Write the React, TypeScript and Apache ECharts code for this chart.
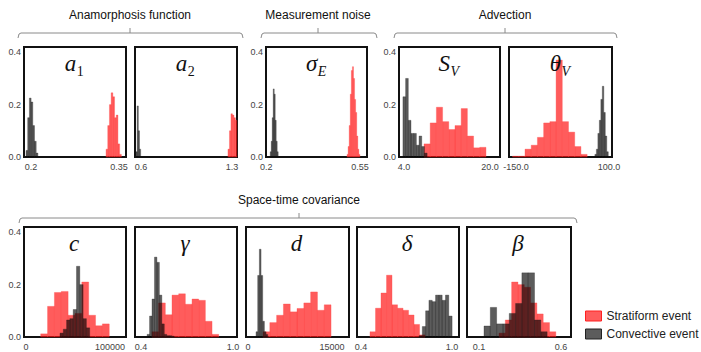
import { useEffect, useRef } from 'react';
import * as echarts from 'echarts';

const SANS = 'Liberation Sans, Arial, sans-serif';
const SERIF = 'Liberation Serif, Times New Roman, serif';

// ---- data: histogram bins [first bin start, bin width] and bin heights ----
const a1StratBins = [0.3279, 0.0029];
const a1StratHeights = [0.03, 0.12, 0.2, 0.245, 0.23, 0.15, 0.16, 0.05, 0.01];
const a1ConvBins = [0.1915, 0.0029];
const a1ConvHeights = [0.025, 0.15, 0.225, 0.21, 0.12, 0.06, 0.015];

const a2StratBins = [1.269, 0.0115];
const a2StratHeights = [0.03, 0.1, 0.165, 0.16, 0.15, 0.14];
const a2ConvBins = [0.5615, 0.009];
const a2ConvHeights = [0.02, 0.195, 0.1, 0.03];

const sigmaStratBins = [0.5016, 0.004];
const sigmaStratHeights = [0.01, 0.04, 0.12, 0.24, 0.33, 0.345, 0.3, 0.22, 0.17, 0.08, 0.03, 0.01];
const sigmaConvBins = [0.2149, 0.0037];
const sigmaConvHeights = [0.02, 0.06, 0.15, 0.26, 0.24, 0.14, 0.06, 0.02];

const svStratBins = [7.72, 1.153];
const svStratHeights = [0.05, 0.13, 0.19, 0.135, 0.105, 0.12, 0.185, 0.08, 0.035, 0.037];
const svConvBins = [3.8, 0.5];
const svConvHeights = [0.23, 0.3, 0.14, 0.09, 0.09, 0.045, 0.08, 0.04, 0.015];

const thetaStratBins = [-159.2, 16.7];
const thetaStratHeights = [0.003, 0.003, 0.03, 0.045, 0.075, 0.13, 0.135, 0.37, 0.135, 0.095, 0.04, 0.01];
const thetaConvBins = [62, 4];
const thetaConvHeights = [0.01, 0.03, 0.09, 0.14, 0.22, 0.27, 0.17, 0.08, 0.02];

const cStratBins = [17500, 8160];
const cStratHeights = [0.012, 0.117, 0.17, 0.174, 0.083, 0.09, 0.21, 0.083, 0.043, 0.05];
const cConvBins = [40460, 3930];
const cConvHeights = [0.015, 0.03, 0.065, 0.07, 0.105, 0.27, 0.2, 0.07, 0.035];

const gammaStratBins = [0.4718, 0.0435];
const gammaStratHeights = [0.02, 0.13, 0.085, 0.16, 0.165, 0.125, 0.145, 0.14, 0.06, 0.01];
const gammaConvBins = [0.44, 0.016];
const gammaConvHeights = [0.01, 0.08, 0.145, 0.305, 0.285, 0.16, 0.05, 0.01, 0.005, 0.005, 0.003];

const dStratBins = [2680, 1215];
const dStratHeights = [0.02, 0.055, 0.083, 0.126, 0.096, 0.109, 0.13, 0.172, 0.102, 0.123];
const dConvBins = [1430, 300];
const dConvHeights = [0.02, 0.235, 0.335, 0.235, 0.06, 0.02, 0.01];

const deltaStratBins = [0.4593, 0.0363];
const deltaStratHeights = [0.02, 0.11, 0.168, 0.236, 0.123, 0.11, 0.102, 0.084, 0.048, 0.008];
const deltaConvBins = [0.7824, 0.0218];
const deltaConvHeights = [0.005, 0.04, 0.1, 0.14, 0.135, 0.16, 0.16, 0.14, 0.16, 0.08];

const betaStratBins = [0.222, 0.0385];
const betaStratHeights = [0.015, 0.065, 0.21, 0.2, 0.19, 0.13, 0.088, 0.055, 0.02];
const betaConvBins = [0.1305, 0.0385];
const betaConvHeights = [0.042, 0.113, 0.05, 0.05, 0.09, 0.128, 0.245, 0.245, 0.065, 0.02];

// ---- texts and ticks ----
const panelSymbols = ['a', 'a', 'σ', 'S', 'θ', 'c', 'γ', 'd', 'δ', 'β'];
const panelSubscripts = ['1', '2', 'E', 'V', 'V', '', '', '', '', ''];
const xTickValues = [[0.2, 0.35], [0.6, 1.3], [0.2, 0.55], [4, 20], [-150, 100], [0, 100000], [0.4, 1.0], [0, 15000], [0.4, 1.0], [0.1, 0.6]];
const xTickLabels = [['0.2', '0.35'], ['0.6', '1.3'], ['0.2', '0.55'], ['4.0', '20.0'], ['-150.0', '100.0'], ['0', '100000'], ['0.4', '1.0'], ['0', '15000'], ['0.4', '1.0'], ['0.1', '0.6']];
const yTickValues = [0, 0.2, 0.4];
const groupTitles = ['Anamorphosis function', 'Measurement noise', 'Advection', 'Space-time covariance'];
const seriesNames = ['Stratiform event', 'Convective event'];

// ---- layout ----
const panels = [
  { left: 24, top: 47, width: 102, min: 0.1881, max: 0.3619, yLabels: true },
  { left: 135, top: 47, width: 102, min: 0.5538, max: 1.3385, yLabels: false },
  { left: 266, top: 47, width: 101, min: 0.199, max: 0.576, yLabels: true },
  { left: 399, top: 47, width: 101, min: 3.07, max: 21.86, yLabels: true },
  { left: 509, top: 47, width: 103, min: -168.8, max: 108, yLabels: false },
  { left: 24, top: 227, width: 102, min: -2380, max: 119048, yLabels: true },
  { left: 135, top: 227, width: 102, min: 0.361, max: 1.026, yLabels: false },
  { left: 246, top: 227, width: 103, min: -357, max: 18036, yLabels: false },
  { left: 357, top: 227, width: 102, min: 0.3736, max: 1.046, yLabels: false },
  { left: 467, top: 227, width: 104, min: 0.0268, max: 0.661, yLabels: false },
];
const PANEL_H = 110;
const Y_MAX = 0.42;

const histSets = [
  [a1StratBins, a1StratHeights, a1ConvBins, a1ConvHeights],
  [a2StratBins, a2StratHeights, a2ConvBins, a2ConvHeights],
  [sigmaStratBins, sigmaStratHeights, sigmaConvBins, sigmaConvHeights],
  [svStratBins, svStratHeights, svConvBins, svConvHeights],
  [thetaStratBins, thetaStratHeights, thetaConvBins, thetaConvHeights],
  [cStratBins, cStratHeights, cConvBins, cConvHeights],
  [gammaStratBins, gammaStratHeights, gammaConvBins, gammaConvHeights],
  [dStratBins, dStratHeights, dConvBins, dConvHeights],
  [deltaStratBins, deltaStratHeights, deltaConvBins, deltaConvHeights],
  [betaStratBins, betaStratHeights, betaConvBins, betaConvHeights],
] as number[][][];

const RED_FILL = 'rgba(255,0,0,0.64)';
const RED_STROKE = 'rgba(255,70,70,0.55)';
const BLACK_FILL = 'rgba(0,0,0,0.64)';
const BLACK_STROKE = 'rgba(30,30,30,0.5)';

const brackets = [
  { x0: 18, x1: 243, xc: 130, y: 33, title: 0 },
  { x0: 261, x1: 377, xc: 318, y: 33, title: 1 },
  { x0: 394, x1: 617, xc: 505, y: 33, title: 2 },
  { x0: 19, x1: 577, xc: 299, y: 218, title: 3 },
];

const symWidth: Record<string, number> = { a: 11.5, 'σ': 12, S: 11.5, 'θ': 11.5 };
const subWidth: Record<string, number> = { '1': 7, '2': 7, E: 8.5, V: 8.5 };

function toBins(bins: number[], heights: number[]) {
  return heights.map((h, i) => [bins[0] + i * bins[1], bins[0] + (i + 1) * bins[1], h]);
}

function makeRender(fill: string, stroke: string) {
  return (_params: any, api: any) => {
    const x0 = api.value(0);
    const x1 = api.value(1);
    const h = api.value(2);
    const p0 = api.coord([x0, 0]);
    const p1 = api.coord([x1, h]);
    return {
      type: 'rect',
      shape: { x: p0[0], y: p1[1], width: p1[0] - p0[0], height: p0[1] - p1[1] },
      style: { fill, stroke, lineWidth: 0.6 },
    };
  };
}

export default function App() {
  const ref = useRef<HTMLDivElement>(null);
  useEffect(() => {
    const chart = echarts.init(ref.current!, null, { renderer: 'svg' });

    const grid = panels.map((p) => ({
      left: p.left, top: p.top, width: p.width, height: PANEL_H,
      show: true, borderColor: '#111', borderWidth: 2, backgroundColor: 'transparent',
      containLabel: false,
    }));

    const xAxis = panels.map((p, i) => ({
      type: 'value', gridIndex: i, min: p.min, max: p.max,
      axisLine: { show: false }, axisTick: { show: false }, splitLine: { show: false },
      axisLabel: {
        show: true,
        customValues: xTickValues[i],
        formatter: (v: number) => {
          const k = xTickValues[i].indexOf(v);
          return k >= 0 ? xTickLabels[i][k] : '';
        },
        fontSize: 9, color: '#444', fontFamily: SANS, margin: 5,
      },
    }));

    const yAxis = panels.map((p, i) => ({
      type: 'value', gridIndex: i, min: 0, max: Y_MAX,
      axisLine: { show: false }, axisTick: { show: false }, splitLine: { show: false },
      axisLabel: {
        show: p.yLabels,
        customValues: yTickValues,
        formatter: (v: number) => v.toFixed(1),
        fontSize: 9, color: '#444', fontFamily: SANS, margin: 3,
      },
    }));

    const series: any[] = [];
    histSets.forEach((set, i) => {
      series.push({
        type: 'custom', name: seriesNames[0], xAxisIndex: i, yAxisIndex: i,
        renderItem: makeRender(RED_FILL, RED_STROKE),
        encode: { x: [0, 1], y: 2 },
        data: toBins(set[0], set[1]),
        itemStyle: { color: RED_FILL },
        z: 2,
      });
      series.push({
        type: 'custom', name: seriesNames[1], xAxisIndex: i, yAxisIndex: i,
        renderItem: makeRender(BLACK_FILL, BLACK_STROKE),
        encode: { x: [0, 1], y: 2 },
        data: toBins(set[2], set[3]),
        itemStyle: { color: BLACK_FILL },
        z: 3,
      });
    });

    const graphic: any[] = [];
    brackets.forEach((b) => {
      graphic.push({
        type: 'text', x: b.xc, y: b.y - 18,
        style: { text: groupTitles[b.title], fontSize: 12, fontFamily: SANS, fill: '#111', align: 'center', verticalAlign: 'middle' },
      });
      graphic.push({
        type: 'polyline',
        shape: { points: [[b.x0, b.y + 5], [b.x0 + 1, b.y + 1], [b.x0 + 3, b.y], [b.x1 - 3, b.y], [b.x1 - 1, b.y + 1], [b.x1, b.y + 5]] },
        style: { stroke: '#8a8a8a', lineWidth: 1, fill: null },
      });
      graphic.push({
        type: 'line', shape: { x1: b.xc, y1: b.y - 5, x2: b.xc, y2: b.y },
        style: { stroke: '#8a8a8a', lineWidth: 1 },
      });
    });

    panels.forEach((p, i) => {
      const cx = p.left + p.width / 2;
      const sym = panelSymbols[i];
      const sub = panelSubscripts[i];
      const yb = p.top + 28;
      if (sub) {
        const wm = symWidth[sym] ?? 11.5;
        const ws = subWidth[sub] ?? 7;
        const xr = cx + (wm - ws) / 2 - 1;
        graphic.push({
          type: 'text', x: xr, y: yb, z: 20,
          style: { text: sym, fontSize: 23, fontStyle: 'italic', fontFamily: SERIF, fill: '#111', align: 'right', verticalAlign: 'bottom' },
        });
        graphic.push({
          type: 'text', x: xr + 0.5, y: yb + 3, z: 20,
          style: { text: sub, fontSize: 14, fontStyle: sub === '1' || sub === '2' ? 'normal' : 'italic', fontFamily: SERIF, fill: '#111', align: 'left', verticalAlign: 'bottom' },
        });
      } else {
        graphic.push({
          type: 'text', x: cx - 1, y: yb, z: 20,
          style: { text: sym, fontSize: 23, fontStyle: 'italic', fontFamily: SERIF, fill: '#111', align: 'center', verticalAlign: 'bottom' },
        });
      }
    });

    const option: any = {
      animation: false,
      backgroundColor: '#fff',
      grid, xAxis, yAxis, series, graphic,
      legend: {
        orient: 'vertical', left: 580, top: 305, itemWidth: 16, itemHeight: 10, itemGap: 6,
        selectedMode: false,
        textStyle: { fontSize: 12, fontFamily: SANS, color: '#222' },
        data: [
          { name: seriesNames[0], icon: 'rect', itemStyle: { color: RED_FILL, borderColor: '#ff2020', borderWidth: 1 } },
          { name: seriesNames[1], icon: 'rect', itemStyle: { color: BLACK_FILL, borderColor: '#222', borderWidth: 1 } },
        ],
      },
    };
    chart.setOption(option);
    return () => chart.dispose();
  }, []);
  return <div ref={ref} style={{ position: 'absolute', left: 0, top: 0, width: 701, height: 352 }} />;
}
